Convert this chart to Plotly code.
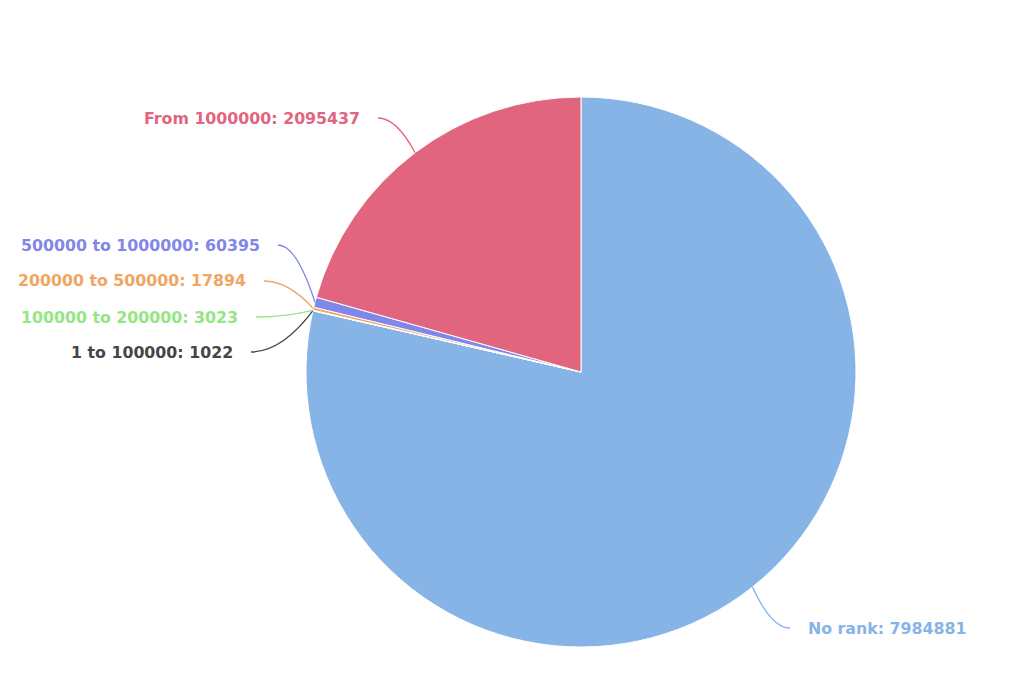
import math
import plotly.graph_objects as go

categories = ["No rank", "1 to 100000", "100000 to 200000", "200000 to 500000",
              "500000 to 1000000", "From 1000000"]
counts = [7984881, 1022, 3023, 17894, 60395, 2095437]
colors = ["#86b4e7", "#454549", "#93e683", "#f1a562", "#8087e8", "#e1657f"]

# ---- layout geometry (screen pixels) ----
W, H = 1024, 690
SHIFT_X, SHIFT_Y = -8, -8           # compensation for page offset
CX, CY, R = 581, 372, 275           # pie centre and radius
# where each label's connector starts (next to its text), and which side the text sits
label_points = [(790, 628), (251, 352), (256, 317), (264, 281), (278, 245), (378, 118)]
label_sides = ["left", "right", "right", "right", "right", "right"]
TEXT_GAP = 16


def fx(px):
    return (px + SHIFT_X) / W


def fy(py):
    return 1 - (py + SHIFT_Y) / H


fig = go.Figure(go.Pie(
    labels=categories,
    values=counts,
    sort=False,
    direction="clockwise",
    rotation=0,
    marker=dict(colors=colors, line=dict(color="#ffffff", width=1)),
    textinfo="none",
    showlegend=False,
    hoverinfo="label+value+percent",
    domain=dict(x=[fx(CX - R), fx(CX + R)], y=[fy(CY + R), fy(CY - R)]),
))

# connectors + labels derived from slice mid-angles
total = sum(counts)
cum = 0
shapes = []
annotations = []
for cat, val, col, (lx, ly), side in zip(categories, counts, colors, label_points, label_sides):
    mid = (cum + val / 2) / total * 2 * math.pi
    cum += val
    tx = CX + R * math.sin(mid)
    ty = CY - R * math.cos(mid)
    s = 1 if side == "right" else -1   # direction from label toward pie horizontally
    k = 0.5 * abs(tx - lx)
    ctrl_x, ctrl_y = lx + s * k, ly
    path = (f"M {fx(lx)},{fy(ly)} Q {fx(ctrl_x)},{fy(ctrl_y)} {fx(tx)},{fy(ty)}")
    shapes.append(dict(type="path", xref="paper", yref="paper", path=path,
                       line=dict(color=col, width=1.3)))
    text_x = lx - TEXT_GAP if side == "right" else lx + TEXT_GAP
    annotations.append(dict(
        x=fx(text_x), y=fy(ly), xref="paper", yref="paper",
        text=f"{cat}: {val}", showarrow=False,
        xanchor=side if side == "right" else "left", yanchor="middle",
        font=dict(family="DejaVu Sans", size=15.8, color=col, weight="bold"),
    ))

fig.update_layout(
    width=W, height=H,
    margin=dict(l=0, r=0, t=0, b=0),
    paper_bgcolor="#ffffff",
    plot_bgcolor="#ffffff",
    shapes=shapes,
    annotations=annotations,
)

fig.write_html("out.html")
